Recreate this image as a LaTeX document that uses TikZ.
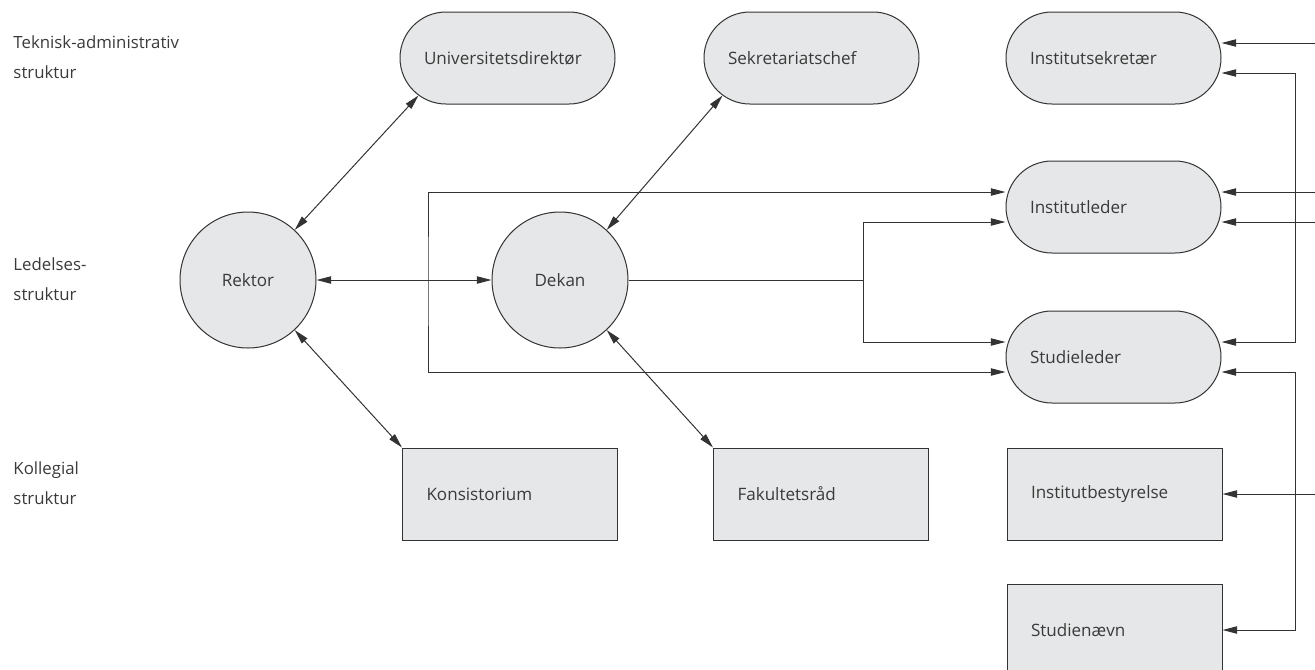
\documentclass[tikz,border=0pt]{standalone}
\usepackage{fontspec}
\setmainfont{Open Sans}
\usepackage{xcolor}
\usepackage{tikz}
\usetikzlibrary{arrows.meta,calc}

\definecolor{boxgray}{HTML}{E6E7E8}
\definecolor{linegray}{HTML}{333333}
\definecolor{textgray}{HTML}{3A3A3A}

\begin{document}
\begin{tikzpicture}[x=0.75pt,y=-0.75pt,>={Triangle[length=11pt,width=5.5pt]},line width=0.75pt,color=linegray]
    \tikzset{every node/.style={text=textgray,font=\fontsize{12.8}{14}\selectfont},
      unit/.style={draw=linegray,fill=boxgray,minimum height=69pt,inner xsep=18pt,text width=125.25pt,align=left},
      stadium/.style={unit,rounded corners=34.5pt},
      board/.style={unit},
      leader/.style={circle,draw=linegray,fill=boxgray,minimum size=102pt,inner sep=0pt},
      rowlabel/.style={anchor=west,align=left,inner sep=0pt,font=\fontsize{12.6}{22.5}\selectfont}}

    \useasboundingbox (0,0) rectangle (1315,669);

    % row labels
    \node[rowlabel] (tekadm)  at (13,57)  {Teknisk-administrativ\\struktur};
    \node[rowlabel] (ledelse) at (13,279) {Ledelses-\\struktur};
    \node[rowlabel] (kolleg)  at (13,483) {Kollegial\\struktur};

    % units
    \node[leader]  (rektor)    at (248,280)    {Rektor};
    \node[leader]  (dekan)     at (560,280)    {Dekan};
    \node[stadium] (unidir)    at (507.5,58)   {Universitetsdirektør};
    \node[stadium] (sekchef)   at (811.5,58)   {Sekretariatschef};
    \node[stadium] (instsek)   at (1113.5,58)  {Institutsekretær};
    \node[stadium] (instleder) at (1113.5,207) {Institutleder};
    \node[stadium] (studleder) at (1113.5,357) {Studieleder};
    \node[board]   (konsist)   at (510,494)    {Konsistorium};
    \node[board]   (fakraad)   at (821,494)    {Fakultetsråd};
    \node[board]   (instbest)  at (1114.5,494) {Institutbestyrelse};
    \node[board]   (studnaevn) at (1114.5,630) {Studienævn};

    \coordinate (split) at (863,280);
    \coordinate (loop)  at (428,280);
    \coordinate (rail)  at (1295,280);
    \coordinate (e1) at (1315,43);
    \coordinate (e2) at (1315,192);
    \coordinate (e3) at (1315,222);
    \coordinate (e4) at (1315,494);

    \path[<->] (rektor) edge (dekan)
               (rektor.47) edge ($(unidir.south west)+(19,-9)$)
               (dekan.47) edge ($(sekchef.south west)+(19,-9)$)
               (rektor.-47) edge (konsist.north west)
               (dekan.-47) edge (fakraad.north west);

    \draw (dekan.east) -- (split);
    \draw[->] (split) |- ($(instleder.west)+(0,15)$);
    \draw[->] (split) |- ($(studleder.west)+(0,-15)$);
    \draw[<->] ($(instleder.west)+(0,-15)$) -| (loop) |- ($(studleder.west)+(0,15)$);

    \draw[<->] ($(instsek.east)+(0,15)$) -| (rail) |- ($(studleder.east)+(0,-15)$);
    \draw[<->] ($(studleder.east)+(0,15)$) -| (rail |- instbest) |- (studnaevn.east);
    \draw[->] (e1) -- (e1 -| instsek.east);
    \draw[->] (e2) -- (e2 -| instleder.east);
    \draw[->] (e3) -- (e3 -| instleder.east);
    \draw[->] (e4) -- (instbest.east);
\end{tikzpicture}
\end{document}
